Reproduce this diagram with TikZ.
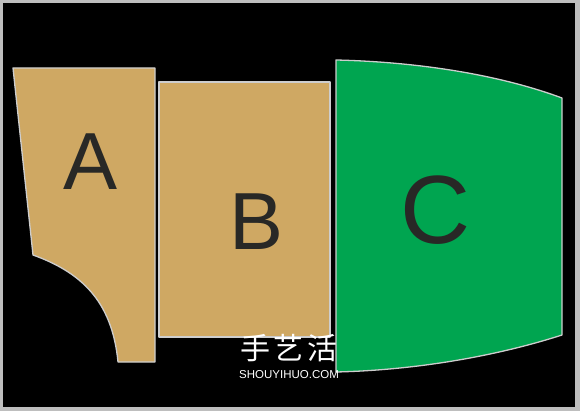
\documentclass[tikz,border=0pt]{standalone}
\usepackage{fontspec}
\setmainfont{Liberation Sans}
\newfontfamily\cjkfont{Noto Sans CJK SC}
\usepackage{tikz}
\usetikzlibrary{positioning}
\definecolor{paneltan}{RGB}{207,168,99}
\definecolor{panelgreen}{RGB}{0,165,80}
\definecolor{edgegray}{RGB}{205,205,205}
\definecolor{framegray}{RGB}{190,190,190}
\definecolor{letterdark}{RGB}{40,40,38}
\begin{document}
\begin{tikzpicture}[x=1pt,y=-1pt,
    panel/.style={draw=edgegray,line width=1.3pt,line join=round},
    letter/.style={inner sep=0pt,text=letterdark}]
    % Frame
    \fill[framegray] (0,0) rectangle (580,411);
    \fill[black] (3,3) rectangle (575,407);
    \useasboundingbox (0,0) rectangle (580,411);

    % Panel A
    \draw[panel,fill=paneltan] (13,68) -- (155,68) -- (155,362) -- (118,362)
        .. controls (112,300) and (80,272) .. (33,255) -- cycle;
    \node[letter,font=\fontsize{81}{81}\selectfont] (labelA) at (91,162) {A};

    % Panel B
    \draw[panel,fill=paneltan] (159,82) rectangle (330,337);
    \node[letter,font=\fontsize{81}{81}\selectfont] (labelB) at (257,222) {B};

    % Panel C
    \draw[panel,fill=panelgreen] (336,60) .. controls (420,62) and (500,75) .. (562,98)
        -- (562,335) .. controls (500,355) and (420,370) .. (336,372) -- cycle;
    \node[letter,font=\fontsize{97}{97}\selectfont] (labelC) at (436,210) {C};

    % Watermark
    \node[inner sep=0pt,text=white,font=\cjkfont\fontsize{30}{30}\selectfont] (markcn) at (289,348) {手\hspace{4pt}艺\hspace{4pt}活};
    \node[inner sep=0pt,text=white,font=\fontsize{11.5}{11.5}\selectfont,below=8pt of markcn] (markurl) {SHOUYIHUO.COM};
\end{tikzpicture}
\end{document}
